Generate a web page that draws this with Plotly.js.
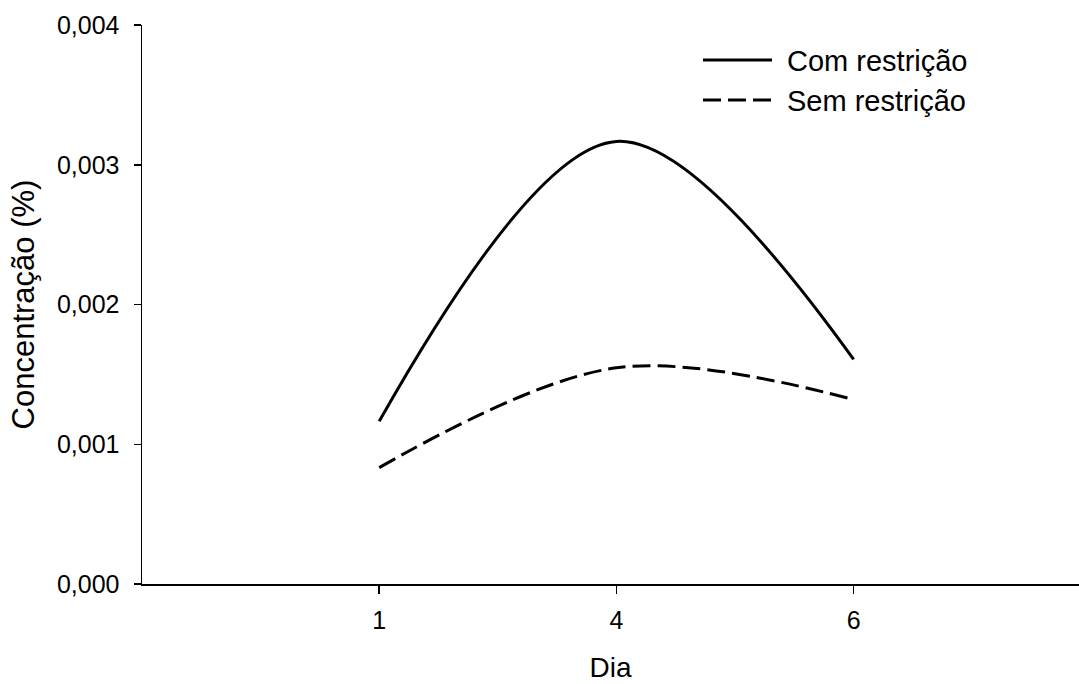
<!DOCTYPE html>
<html>
<head>
<meta charset="utf-8">
<script src="https://cdn.plot.ly/plotly-3.0.1.min.js"></script>
<style>html,body{margin:0;padding:0;background:#fff;}#chart{width:1079px;height:684px;}</style>
</head>
<body>
<div id="chart"></div>
<script>
// Data
const dias = ['1', '4', '6'];
const comRestricao = [0.001164, 0.003167, 0.001607];
const semRestricao = [0.000833, 0.001547, 0.001319];
const yTicks = [0, 0.001, 0.002, 0.003, 0.004];
const seriesNames = ['Com restrição', 'Sem restrição'];

const font = 'Liberation Sans, Arial, sans-serif';

const traces = [
  {x: dias, y: comRestricao, name: seriesNames[0], type: 'scatter', mode: 'lines',
   line: {shape: 'spline', smoothing: 1, color: '#000', width: 3}, showlegend: false},
  {x: dias, y: semRestricao, name: seriesNames[1], type: 'scatter', mode: 'lines',
   line: {shape: 'spline', smoothing: 1, color: '#000', width: 3, dash: '18px,7px'}, showlegend: false}
];

// legend drawn as keys + text
const W = 1079, H = 684, ml = 142, mr = 0, mt = 25, mb = 100;
const px = x => (x - ml) / (W - ml - mr);
const py = y => 1 - (y - mt) / (H - mt - mb);
const legendRows = [{y: 60, dash: 'solid'}, {y: 100, dash: '18px,7px'}];
const shapes = legendRows.map(r => ({
  type: 'line', xref: 'paper', yref: 'paper', x0: px(703), x1: px(772), y0: py(r.y), y1: py(r.y),
  line: {color: '#000', width: 3, dash: r.dash}
}));
const annotations = legendRows.map((r, i) => ({
  xref: 'paper', yref: 'paper', x: px(785), y: py(r.y + 1), xanchor: 'left', yanchor: 'middle',
  text: seriesNames[i], showarrow: false, font: {family: font, size: 29, color: '#000'}
}));

const layout = {
  width: W, height: H,
  margin: {l: ml, r: mr, t: mt, b: mb, pad: 0},
  paper_bgcolor: '#fff', plot_bgcolor: '#fff',
  separators: ',.',
  font: {family: font, size: 25, color: '#000'},
  showlegend: false,
  xaxis: {
    type: 'category', range: [-1, 2.95],
    showgrid: false, zeroline: false, showline: true, linecolor: '#000', linewidth: 1.5,
    ticks: 'outside', ticklen: 8, tickwidth: 1.5, tickcolor: '#000',
    ticklabelstandoff: 5,
    tickfont: {family: font, size: 25, color: '#000'},
    title: {text: 'Dia', font: {family: font, size: 28, color: '#000'}, standoff: 25}
  },
  yaxis: {
    range: [0, 0.004], tickvals: yTicks, tickformat: '.3f',
    showgrid: false, zeroline: false, showline: true, linecolor: '#000', linewidth: 1.5,
    ticks: 'outside', ticklen: 7, tickwidth: 1.5, tickcolor: '#000',
    ticklabelstandoff: 9,
    tickfont: {family: font, size: 25, color: '#000'},
    title: {text: 'Concentração (%)', font: {family: font, size: 31, color: '#000'}, standoff: 13}
  },
  shapes: shapes,
  annotations: annotations
};

Plotly.newPlot('chart', traces, layout, {displayModeBar: false, staticPlot: true});
</script>
</body>
</html>
